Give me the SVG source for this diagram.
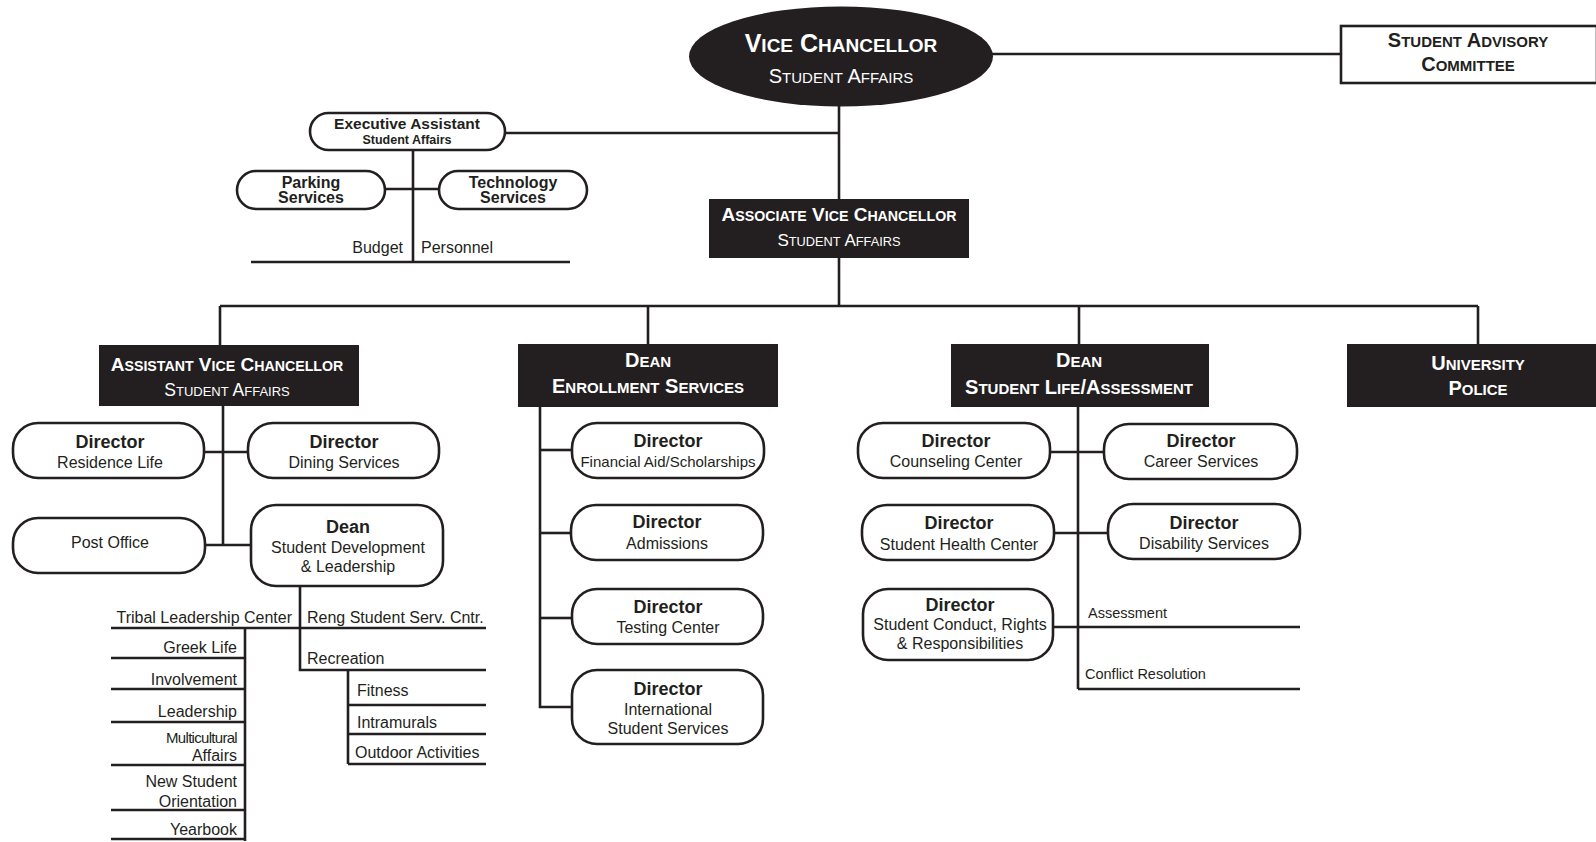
<svg xmlns="http://www.w3.org/2000/svg" width="1596" height="842" viewBox="0 0 1596 842">
<style>
text{font-family:"Liberation Sans",Arial,sans-serif;fill:#231f20}
.w{fill:#fff;font-weight:bold}
.wr{fill:#fff;font-weight:normal}
.c{text-anchor:middle}
.r{text-anchor:end}
.b{font-weight:bold}
.dk{fill:#231f20}
.pill{fill:#fff;stroke:#231f20;stroke-width:2.6}
.ln{stroke:#231f20;stroke-width:2.6;fill:none}
.f16{font-size:16px}
.f18{font-size:18px;font-weight:bold}
</style>
<rect width="1596" height="842" fill="#fff"/>
<g id="connectors" class="ln">
<line x1="975" y1="54" x2="1341" y2="54"/>
<line x1="839" y1="100" x2="839" y2="199"/>
<line x1="505" y1="133" x2="839" y2="133"/>
<line x1="413" y1="150" x2="413" y2="262"/>
<line x1="385" y1="189" x2="439" y2="189"/>
<line x1="251" y1="262" x2="570" y2="262"/>
<line x1="839" y1="258" x2="839" y2="306"/>
<line x1="220" y1="306" x2="1478" y2="306"/>
<line x1="220" y1="306" x2="220" y2="345"/>
<line x1="648" y1="306" x2="648" y2="345"/>
<line x1="1079" y1="306" x2="1079" y2="345"/>
<line x1="1478" y1="306" x2="1478" y2="345"/>
<line x1="223" y1="406" x2="223" y2="545"/>
<line x1="204" y1="452" x2="248" y2="452"/>
<line x1="205" y1="545" x2="251" y2="545"/>
<polyline points="300,586 300,670 486,670"/>
<line x1="111" y1="628" x2="486" y2="628"/>
<line x1="245" y1="628" x2="245" y2="841"/>
<line x1="111" y1="658" x2="245" y2="658"/>
<line x1="111" y1="689" x2="245" y2="689"/>
<line x1="111" y1="722" x2="245" y2="722"/>
<line x1="111" y1="765" x2="245" y2="765"/>
<line x1="111" y1="810" x2="245" y2="810"/>
<line x1="111" y1="839" x2="245" y2="839"/>
<line x1="348" y1="670" x2="348" y2="764"/>
<line x1="348" y1="705" x2="486" y2="705"/>
<line x1="348" y1="734" x2="486" y2="734"/>
<line x1="348" y1="764" x2="486" y2="764"/>
<polyline points="540,406 540,707 572,707"/>
<line x1="540" y1="450" x2="572" y2="450"/>
<line x1="540" y1="533" x2="571" y2="533"/>
<line x1="540" y1="618" x2="572" y2="618"/>
<line x1="1078" y1="406" x2="1078" y2="689"/>
<line x1="1050" y1="452" x2="1104" y2="452"/>
<line x1="1054" y1="533" x2="1108" y2="533"/>
<line x1="1053" y1="627" x2="1300" y2="627"/>
<line x1="1078" y1="689" x2="1300" y2="689"/>
</g>
<g id="vice-chancellor">
<ellipse cx="841" cy="56.5" rx="152" ry="50" class="dk"/>
<text x="841" y="52" class="w c" font-size="25">V<tspan font-size="19">ICE</tspan> C<tspan font-size="19">HANCELLOR</tspan></text>
<text x="841" y="83" class="wr c" font-size="20">S<tspan font-size="15">TUDENT</tspan> A<tspan font-size="15">FFAIRS</tspan></text>
</g>
<g id="student-advisory-committee">
<rect x="1341" y="26" width="256" height="57" class="pill"/>
<text x="1468" y="47" class="b c" font-size="20">S<tspan font-size="15">TUDENT</tspan> A<tspan font-size="15">DVISORY</tspan></text>
<text x="1468" y="71" class="b c" font-size="20">C<tspan font-size="15">OMMITTEE</tspan></text>
</g>
<g id="executive-assistant">
<rect x="310" y="113" width="195" height="37" rx="18.5" class="pill"/>
<text x="407" y="129" class="b c" font-size="15.5">Executive Assistant</text>
<text x="407" y="144" class="b c" font-size="12.5">Student Affairs</text>
</g>
<g id="parking-services">
<rect x="237" y="171" width="148" height="38" rx="19" class="pill"/>
<text x="311" y="188" class="b c f16">Parking</text>
<text x="311" y="203" class="b c f16">Services</text>
</g>
<g id="technology-services">
<rect x="439" y="171" width="148" height="38" rx="19" class="pill"/>
<text x="513" y="188" class="b c f16">Technology</text>
<text x="513" y="203" class="b c f16">Services</text>
</g>
<g id="budget"><text x="403" y="253" class="r f16">Budget</text></g>
<g id="personnel"><text x="421" y="253" class="f16">Personnel</text></g>
<g id="associate-vice-chancellor">
<rect x="709" y="199" width="260" height="59" class="dk"/>
<text x="839" y="221" class="w c" font-size="19">A<tspan font-size="14.2">SSOCIATE</tspan> V<tspan font-size="14.2">ICE</tspan> C<tspan font-size="14.2">HANCELLOR</tspan></text>
<text x="839" y="246" class="wr c" font-size="17">S<tspan font-size="12.8">TUDENT</tspan> A<tspan font-size="12.8">FFAIRS</tspan></text>
</g>
<g id="assistant-vice-chancellor">
<rect x="99" y="345" width="260" height="61" class="dk"/>
<text x="227" y="371" class="w c" font-size="19">A<tspan font-size="14.2">SSISTANT</tspan> V<tspan font-size="14.2">ICE</tspan> C<tspan font-size="14.2">HANCELLOR</tspan></text>
<text x="227" y="396" class="wr c" font-size="17.5">S<tspan font-size="13">TUDENT</tspan> A<tspan font-size="13">FFAIRS</tspan></text>
</g>
<g id="dean-enrollment-services">
<rect x="518" y="344" width="260" height="63" class="dk"/>
<text x="648" y="367" class="w c" font-size="20">D<tspan font-size="15">EAN</tspan></text>
<text x="648" y="393" class="w c" font-size="20">E<tspan font-size="15">NROLLMENT</tspan> S<tspan font-size="15">ERVICES</tspan></text>
</g>
<g id="dean-student-life">
<rect x="951" y="344" width="258" height="63" class="dk"/>
<text x="1079" y="367" class="w c" font-size="20">D<tspan font-size="15">EAN</tspan></text>
<text x="1079" y="394" class="w c" font-size="20">S<tspan font-size="15">TUDENT</tspan> L<tspan font-size="15">IFE</tspan>/A<tspan font-size="15">SSESSMENT</tspan></text>
</g>
<g id="university-police">
<rect x="1347" y="344" width="250" height="63" class="dk"/>
<text x="1478" y="370" class="w c" font-size="20">U<tspan font-size="15">NIVERSITY</tspan></text>
<text x="1478" y="395" class="w c" font-size="20">P<tspan font-size="15">OLICE</tspan></text>
</g>
<g id="director-residence-life">
<rect x="13" y="423" width="191" height="55" rx="25" class="pill"/>
<text x="110" y="448" class="c f18">Director</text>
<text x="110" y="468" class="c f16">Residence Life</text>
</g>
<g id="director-dining-services">
<rect x="248" y="423" width="191" height="55" rx="25" class="pill"/>
<text x="344" y="448" class="c f18">Director</text>
<text x="344" y="468" class="c f16">Dining Services</text>
</g>
<g id="post-office">
<rect x="13" y="518" width="192" height="55" rx="25" class="pill"/>
<text x="110" y="548" class="c f16">Post Office</text>
</g>
<g id="dean-student-development">
<rect x="251" y="505" width="192" height="81" rx="25" class="pill"/>
<text x="348" y="533" class="c f18">Dean</text>
<text x="348" y="553" class="c f16">Student Development</text>
<text x="348" y="572" class="c f16">&amp; Leadership</text>
</g>
<g id="tribal-leadership-center"><text x="292" y="623" class="r f16">Tribal Leadership Center</text></g>
<g id="reng-student-serv-cntr"><text x="307" y="623" class="f16">Reng Student Serv. Cntr.</text></g>
<g id="greek-life"><text x="237" y="653" class="r f16">Greek Life</text></g>
<g id="involvement"><text x="237" y="685" class="r f16">Involvement</text></g>
<g id="leadership"><text x="237" y="717" class="r f16">Leadership</text></g>
<g id="multicultural-affairs"><text x="237" y="743" class="r" font-size="15" letter-spacing="-0.7">Multicultural</text><text x="237" y="761" class="r f16">Affairs</text></g>
<g id="new-student-orientation"><text x="237" y="787" class="r f16">New Student</text><text x="237" y="807" class="r f16">Orientation</text></g>
<g id="yearbook"><text x="237" y="835" class="r f16">Yearbook</text></g>
<g id="recreation"><text x="307" y="664" class="f16">Recreation</text></g>
<g id="fitness"><text x="357" y="696" class="f16">Fitness</text></g>
<g id="intramurals"><text x="357" y="728" class="f16">Intramurals</text></g>
<g id="outdoor-activities"><text x="355" y="758" class="f16">Outdoor Activities</text></g>
<g id="director-financial-aid">
<rect x="572" y="423" width="192" height="55" rx="25" class="pill"/>
<text x="668" y="447" class="c f18">Director</text>
<text x="668" y="467" class="c" font-size="15">Financial Aid/Scholarships</text>
</g>
<g id="director-admissions">
<rect x="571" y="505" width="192" height="55" rx="25" class="pill"/>
<text x="667" y="528" class="c f18">Director</text>
<text x="667" y="549" class="c f16">Admissions</text>
</g>
<g id="director-testing-center">
<rect x="572" y="589" width="191" height="55" rx="25" class="pill"/>
<text x="668" y="613" class="c f18">Director</text>
<text x="668" y="633" class="c f16">Testing Center</text>
</g>
<g id="director-international">
<rect x="572" y="670" width="191" height="74" rx="25" class="pill"/>
<text x="668" y="695" class="c f18">Director</text>
<text x="668" y="715" class="c f16">International</text>
<text x="668" y="734" class="c f16">Student Services</text>
</g>
<g id="director-counseling-center">
<rect x="858" y="423" width="192" height="55" rx="25" class="pill"/>
<text x="956" y="447" class="c f18">Director</text>
<text x="956" y="467" class="c f16">Counseling Center</text>
</g>
<g id="director-career-services">
<rect x="1104" y="424" width="193" height="55" rx="25" class="pill"/>
<text x="1201" y="447" class="c f18">Director</text>
<text x="1201" y="467" class="c f16">Career Services</text>
</g>
<g id="director-student-health-center">
<rect x="862" y="505" width="192" height="55" rx="25" class="pill"/>
<text x="959" y="529" class="c f18">Director</text>
<text x="959" y="550" class="c f16">Student Health Center</text>
</g>
<g id="director-disability-services">
<rect x="1108" y="504" width="192" height="55" rx="25" class="pill"/>
<text x="1204" y="529" class="c f18">Director</text>
<text x="1204" y="549" class="c f16">Disability Services</text>
</g>
<g id="director-student-conduct">
<rect x="863" y="589" width="190" height="71" rx="25" class="pill"/>
<text x="960" y="611" class="c f18">Director</text>
<text x="960" y="630" class="c f16">Student Conduct, Rights</text>
<text x="960" y="649" class="c f16">&amp; Responsibilities</text>
</g>
<g id="assessment"><text x="1088" y="618" font-size="14.5">Assessment</text></g>
<g id="conflict-resolution"><text x="1085" y="679" font-size="14.5">Conflict Resolution</text></g>
</svg>
